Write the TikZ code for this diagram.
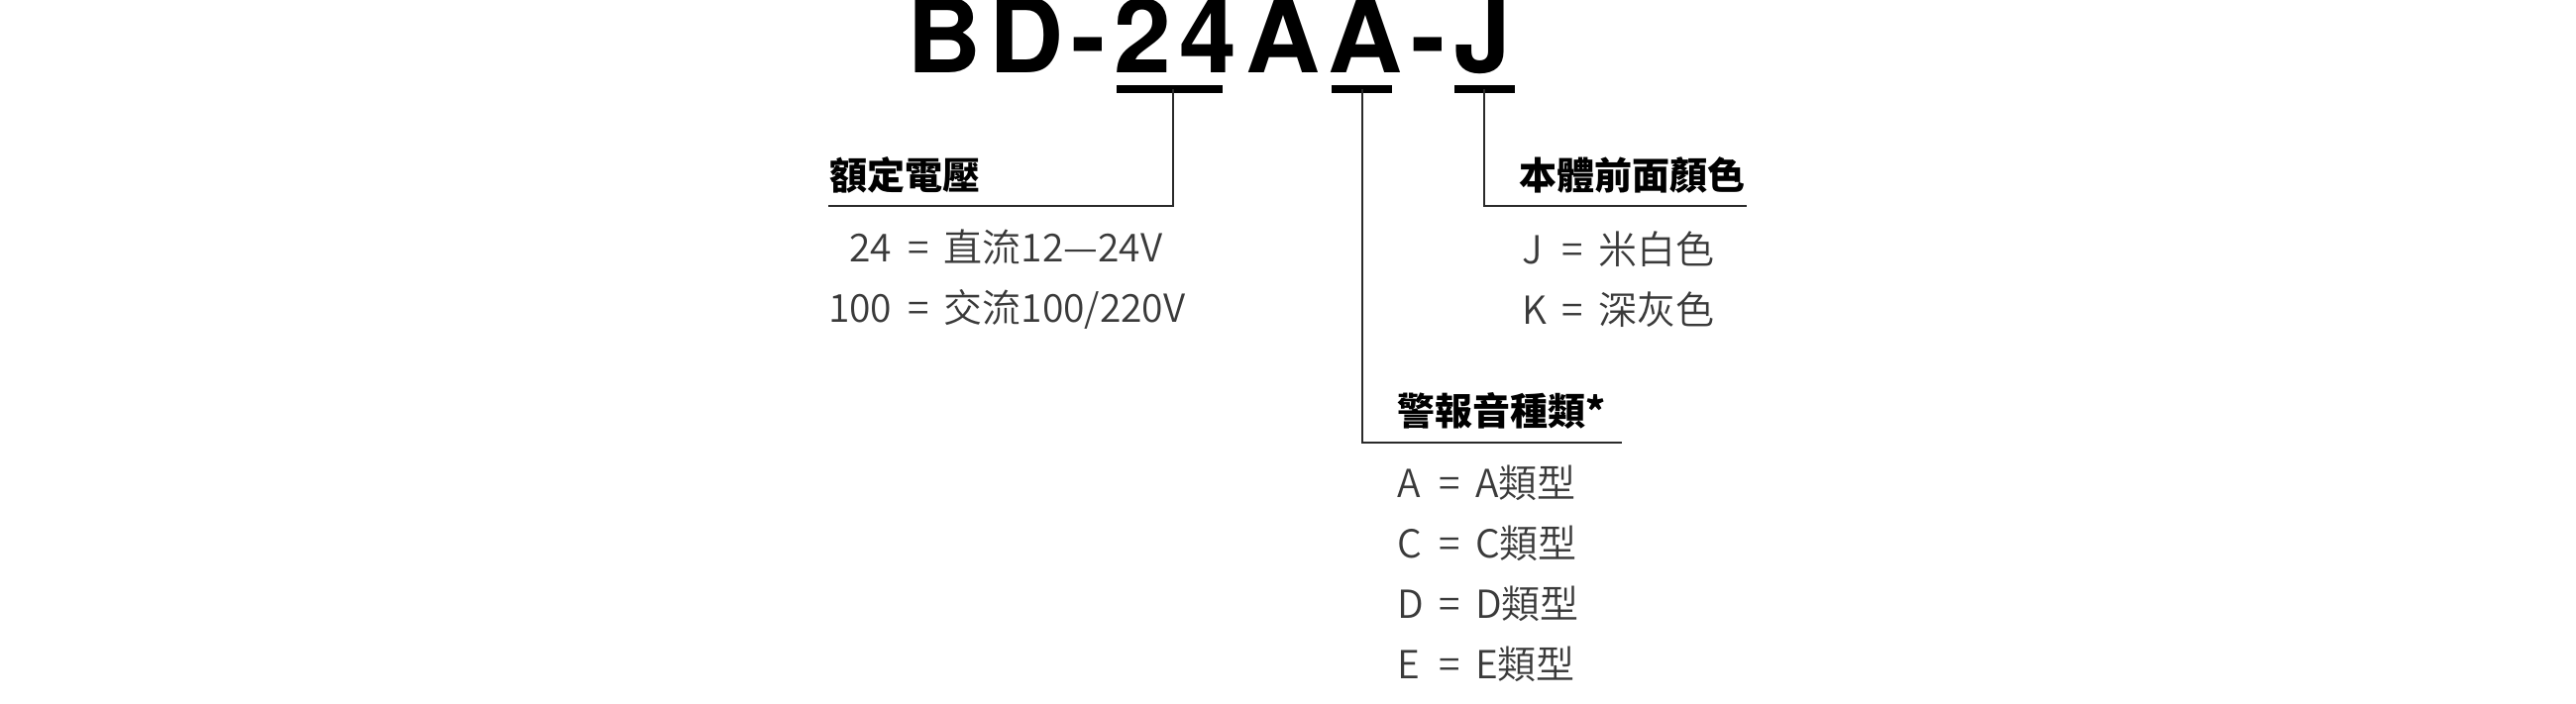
\documentclass[tikz,border=0pt]{standalone}
\usepackage{fontspec}
\usepackage{xcolor}
\usetikzlibrary{positioning}
\newfontfamily\cjk{Noto Sans CJK TC}
\IfFontExistsTF{Noto Sans CJK TC DemiLight}
  {\newfontfamily\cjklight{Noto Sans CJK TC DemiLight}}
  {\newfontfamily\cjklight{Noto Sans CJK TC}}
\newfontfamily\titlefont[LetterSpace=8]{TeX Gyre Heros}
\definecolor{itemgray}{HTML}{3A3A3A}
\definecolor{linegray}{HTML}{2A2A2A}
\newcommand{\eqsep}{\hspace{16pt}=\hspace{15pt}}

\begin{document}
\begin{tikzpicture}[x=1pt, y=1pt, every node/.style={inner sep=0pt, outer sep=0pt},
    title/.style={font=\titlefont\bfseries\fontsize{104}{110}\selectfont},
    head/.style={font=\cjk\bfseries\fontsize{38}{46}\selectfont, text=black},
    keys/.style={font=\cjklight\fontsize{39}{61}\selectfont, text=itemgray},
    bar/.style={line width=8pt},
    lead/.style={draw=linegray, line width=2pt}]
  \useasboundingbox (0,0) rectangle (2600,-710);
  \node[title, anchor=base west] (model) at (915,-73) {BD-24AA-J};
  % bars under the code letters
  \coordinate (v1) at (1127,-90); \coordinate (v2) at (1234,-90);
  \coordinate (a1) at (1344,-90); \coordinate (a2) at (1405,-90);
  \coordinate (c1) at (1468,-90); \coordinate (c2) at (1529,-90);
  \draw[bar] (v1) -- (v2);
  \draw[bar] (a1) -- (a2);
  \draw[bar] (c1) -- (c2);
  % leaders
  \coordinate (vtap) at (1184,-90);
  \coordinate (vend) at (836,-208);
  \coordinate (atap) at (1375,-90);
  \coordinate (acorner) at (1375,-447);
  \coordinate (aend) at (1637,-447);
  \coordinate (ctap) at (1498,-90);
  \coordinate (ccorner) at (1498,-208);
  \coordinate (cend) at (1763,-208);
  \draw[lead] (vtap) |- (vend);
  \draw[lead] (atap) -- (acorner) -- (aend);
  \draw[lead] (ctap) -- (ccorner) -- (cend);
  % voltage
  \node[head, above right=13pt and 1pt of vend] (vhead) {額定電壓};
  \node[keys, below right=14pt and 0pt of vend] (vlist) {\begin{tabular}{@{}r@{\eqsep}l@{}}
    24 & 直流12—24V\\
    100 & 交流100/220V
  \end{tabular}};
  % alarm sound
  \node[head, above right=14pt and 35pt of acorner] (ahead) {警報音種類*};
  \node[keys, below right=13pt and 35pt of acorner] (alist) {\begin{tabular}{@{}l@{\eqsep}l@{}}
    A & A類型\\
    C & C類型\\
    D & D類型\\
    E & E類型
  \end{tabular}};
  % body colour
  \node[head, above right=13pt and 35pt of ccorner] (chead) {本體前面顏色};
  \node[keys, below right=16pt and 38pt of ccorner] (clist) {\begin{tabular}{@{}l@{\eqsep}l@{}}
    J & 米白色\\
    K & 深灰色
  \end{tabular}};
\end{tikzpicture}
\end{document}
